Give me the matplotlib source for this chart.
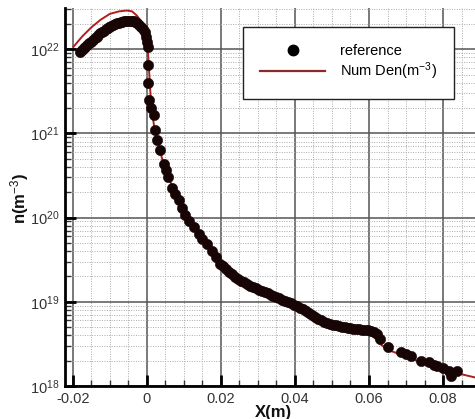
import numpy as np
import matplotlib
matplotlib.use("Agg")
import matplotlib.pyplot as plt
from matplotlib.ticker import LogLocator, MultipleLocator, NullFormatter, FixedLocator

plt.rcParams['font.family'] = ['Liberation Sans', 'DejaVu Sans']
plt.rcParams['mathtext.fontset'] = 'custom'
plt.rcParams['mathtext.rm'] = 'Liberation Sans'
plt.rcParams['mathtext.it'] = 'Liberation Sans:italic'
plt.rcParams['mathtext.bf'] = 'Liberation Sans:bold'

# reference data (x in m, log10 of number density)
ref_x = [-0.0181, -0.0176, -0.0171, -0.0166, -0.0161, -0.0156, -0.0151, -0.0146,
         -0.0141, -0.0136, -0.0131, -0.0126, -0.0121, -0.0116, -0.0111, -0.0106,
         -0.0101, -0.0096, -0.0091, -0.0086, -0.0081, -0.0076, -0.0071, -0.0066,
         -0.0061, -0.0056, -0.0051, -0.0046, -0.0041, -0.0036, -0.0031, -0.0026,
         -0.0021, -0.0016, -0.0011, -0.0006, -0.0002, 0.0001, 0.0004,
         0.0003, 0.0004, 0.0007, 0.0012, 0.0018, 0.0022, 0.0028, 0.0036, 0.0045,
         0.0052, 0.0058, 0.0068, 0.0077, 0.0086, 0.0095, 0.0103, 0.0115, 0.0126,
         0.0140, 0.0150, 0.0162, 0.0175, 0.0187,
         0.0198, 0.0206, 0.0214, 0.0222, 0.0230, 0.0238, 0.0246, 0.0254, 0.0262,
         0.0270, 0.0278, 0.0286, 0.0294, 0.0302, 0.0310, 0.0318, 0.0326, 0.0334,
         0.0342, 0.0350, 0.0358, 0.0366, 0.0374, 0.0382, 0.0390, 0.0398, 0.0406,
         0.0414, 0.0422, 0.0430, 0.0438, 0.0446, 0.0454, 0.0462, 0.0470, 0.0478,
         0.0486, 0.0494, 0.0502, 0.0510, 0.0518, 0.0526, 0.0534, 0.0542, 0.0550,
         0.0558, 0.0566, 0.0574, 0.0582, 0.0590, 0.0598, 0.0606, 0.0614, 0.0622,
         0.0631, 0.0650, 0.0686, 0.0700, 0.0713, 0.0740, 0.0762, 0.0775, 0.0785,
         0.0800, 0.0816, 0.0821, 0.0839]
ref_log10n = [21.97, 21.99, 22.01, 22.03, 22.05, 22.07, 22.09, 22.11,
              22.13, 22.15, 22.17, 22.19, 22.21, 22.22, 22.24, 22.25,
              22.27, 22.28, 22.29, 22.30, 22.31, 22.315, 22.32, 22.325,
              22.33, 22.335, 22.34, 22.34, 22.34, 22.335, 22.325, 22.31,
              22.29, 22.27, 22.24, 22.20, 22.15, 22.09, 22.03,
              21.81, 21.60, 21.40, 21.30, 21.22, 21.04, 20.92, 20.80, 20.64,
              20.56, 20.48, 20.35, 20.28, 20.21, 20.12, 20.03, 19.96, 19.89,
              19.80, 19.75, 19.69, 19.60, 19.53,
              19.45, 19.42, 19.39, 19.36, 19.33, 19.30, 19.27, 19.25, 19.23,
              19.21, 19.19, 19.175, 19.16, 19.145, 19.13, 19.115, 19.10, 19.085,
              19.07, 19.055, 19.04, 19.025, 19.01, 18.995, 18.98, 18.96, 18.945,
              18.93, 18.91, 18.89, 18.865, 18.84, 18.82, 18.80, 18.78, 18.765,
              18.75, 18.74, 18.73, 18.72, 18.71, 18.705, 18.70, 18.69, 18.685,
              18.68, 18.68, 18.675, 18.67, 18.67, 18.665, 18.655, 18.64, 18.62,
              18.56, 18.46, 18.40, 18.38, 18.36, 18.30, 18.28, 18.25, 18.24,
              18.21, 18.18, 18.12, 18.18]

# numerical result
num_x = [-0.0198, -0.0175, -0.0150, -0.0125, -0.0100, -0.0075, -0.0054, -0.0040,
         -0.0027, -0.0015, -0.0004, 0.0002, 0.0006, 0.0010, 0.0015, 0.0022,
         0.0030, 0.0040, 0.0050, 0.0060, 0.0075, 0.0090, 0.0105, 0.0125,
         0.0145, 0.0165, 0.0185, 0.0200, 0.0234, 0.0280, 0.0325, 0.0370,
         0.0415, 0.0464, 0.0500, 0.0550, 0.0580, 0.0602, 0.0615, 0.0630,
         0.0650, 0.0695, 0.0740, 0.0785, 0.0830, 0.0888]
num_log10n = [22.03, 22.15, 22.26, 22.35, 22.42, 22.45, 22.46, 22.45,
              22.40, 22.33, 22.23, 22.05, 21.75, 21.45, 21.22, 21.02,
              20.88, 20.72, 20.58, 20.46, 20.31, 20.17, 20.02, 19.88,
              19.77, 19.66, 19.52, 19.44, 19.30, 19.18, 19.09, 19.01,
              18.92, 18.78, 18.71, 18.665, 18.645, 18.62, 18.58, 18.50,
              18.43, 18.36, 18.28, 18.22, 18.16, 18.10]

x_ticks = [-0.02, 0, 0.02, 0.04, 0.06, 0.08]
x_ticklabels = ['-0.02', '0', '0.02', '0.04', '0.06', '0.08']
y_exponents = [18, 19, 20, 21, 22]

fig = plt.figure(figsize=(4.75, 4.19), dpi=100)
ax = fig.add_axes([65/475, 1-386/419, 411/475, 378/419])

ax.set_yscale('log')
ax.set_xlim(-0.02211, 0.0889)
ax.set_ylim(1e18, 10**22.49)

ax.plot(num_x, 10**np.array(num_log10n), color='#b01e1e', lw=1.4, zorder=2)
ax.plot(ref_x, 10**np.array(ref_log10n), ls='none', marker='o', ms=7.4,
        mfc='#170505', mec='#1c0606', mew=0.4, zorder=3)

# legend handles
h_ref, = ax.plot([], [], ls='none', marker='o', ms=7.5, mfc='#000000', mec='#000000')
h_num, = ax.plot([], [], color='#8a2a2a', lw=1.6)
leg = ax.legend([h_ref, h_num], ['reference', 'Num Den(m$^{-3}$)'],
                loc='upper left', bbox_to_anchor=(243/475, 1-27.5/419),
                bbox_transform=fig.transFigure, fontsize=10.5,
                frameon=True, fancybox=False, borderpad=1.15, labelspacing=0.15,
                handlelength=4.5, handletextpad=1.0, borderaxespad=0)
leg.get_frame().set_edgecolor('#222222')
leg.get_frame().set_linewidth(1.0)
leg.get_frame().set_facecolor('white')
leg.get_frame().set_alpha(1)
leg.set_zorder(5)

ax.xaxis.set_major_locator(FixedLocator(x_ticks))
ax.set_xticklabels(x_ticklabels)
ax.xaxis.set_minor_locator(MultipleLocator(0.005))
ax.yaxis.set_major_locator(FixedLocator([10.0**e for e in y_exponents]))
ax.set_yticklabels(['10$^{%d}$' % e for e in y_exponents])
ax.yaxis.set_minor_locator(LogLocator(base=10, subs=range(2, 10)))
ax.yaxis.set_minor_formatter(NullFormatter())

ax.grid(True, which='major', color='#555555', lw=1.1, ls='-', zorder=0)
ax.grid(True, which='minor', color='#aaaaaa', lw=0.7, ls=(0, (1, 1.5)), zorder=0)
ax.set_axisbelow(True)

ax.tick_params(which='major', direction='in', length=8, width=2, color='black',
               labelsize=10.5, labelcolor='#333333', top=False, right=False, pad=4)
ax.tick_params(which='minor', direction='in', length=4, width=1, color='#333333',
               top=False, right=False)

for s in ['top', 'right']:
    ax.spines[s].set_visible(False)
for s in ['left', 'bottom']:
    ax.spines[s].set_linewidth(2)
    ax.spines[s].set_color('black')

fig.text(273/475, 1-412/419, 'X(m)', ha='center', va='center', fontsize=12,
         fontweight='bold', color='#111111')
fig.text(20/475, 1-198/419, 'n(m$^{-3}$)', ha='center', va='center', fontsize=12,
         fontweight='bold', rotation=90, color='#111111')

fig.savefig('out.png', dpi=100)
